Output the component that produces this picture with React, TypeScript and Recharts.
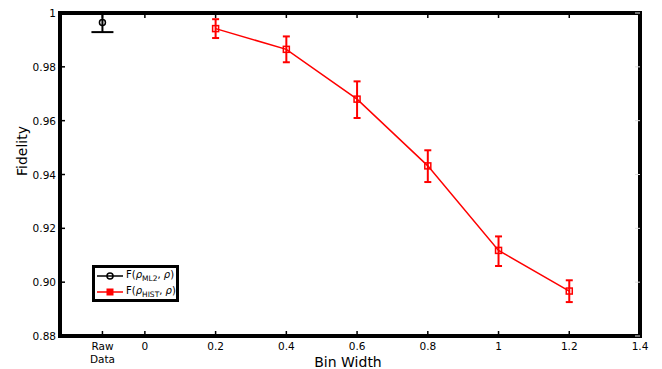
import React from 'react';
import { ComposedChart, Line, XAxis, YAxis, ErrorBar, ReferenceArea } from 'recharts';

// bin widths and fidelity of the histogram estimator
const binWidths = [0.2, 0.4, 0.6, 0.8, 1.0, 1.2];
const histFidelity = [0.9942, 0.9865, 0.968, 0.9432, 0.9118, 0.8967];
const histErrLow = [0.0035, 0.0048, 0.007, 0.006, 0.0058, 0.0041];
const histErrHigh = [0.0035, 0.0048, 0.0066, 0.0058, 0.0052, 0.004];

// raw data (ML2) point, drawn left of zero
const rawX = [-0.12];
const rawFidelity = [0.9965];
const rawErrLow = [0.0036];
const rawErrHigh = [0.0032];

const xTicks = [-0.12, 0, 0.2, 0.4, 0.6, 0.8, 1.0, 1.2, 1.4];
const yTicks = [0.88, 0.9, 0.92, 0.94, 0.96, 0.98, 1.0];

const histData = binWidths.map((b, i) => ({ x: b, y: histFidelity[i], err: [histErrLow[i], histErrHigh[i]] }));
const rawData = rawX.map((b, i) => ({ x: b, y: rawFidelity[i], err: [rawErrLow[i], rawErrHigh[i]] }));

const W = 662;
const H = 369;
const M = { top: 13, right: 22, bottom: 0, left: 0 };
const Y_AXIS_W = 60;
const X_AXIS_H = 33;
const PLOT_W = W - M.right - Y_AXIS_W;
const PLOT_H = H - M.top - X_AXIS_H;
const FONT = '"DejaVu Sans", sans-serif';

const XTick = (props: any) => {
  const { x, y, payload } = props;
  const v = payload.value;
  const raw = v < 0;
  return (
    <g>
      <line x1={x} y1={y} x2={x} y2={y - 5} stroke="#000" strokeWidth={1.5} />
      <line x1={x} y1={y - PLOT_H} x2={x} y2={y - PLOT_H + 5} stroke="#000" strokeWidth={1.5} />
      {raw ? (
        <text x={x} y={y + 14} textAnchor="middle" fontSize={10.5} fontFamily={FONT} fill="#000">
          <tspan x={x}>Raw</tspan>
          <tspan x={x} dy={13}>Data</tspan>
        </text>
      ) : (
        <text x={x} y={y + 14} textAnchor="middle" fontSize={10.5} fontFamily={FONT} fill="#000">
          {String(Math.round(v * 10) / 10)}
        </text>
      )}
    </g>
  );
};

const YTick = (props: any) => {
  const { x, y, payload } = props;
  const v = payload.value;
  const label = v === 1 ? '1' : v.toFixed(2);
  return (
    <g>
      <line x1={x} y1={y} x2={x + 5} y2={y} stroke="#000" strokeWidth={1.5} />
      <line x1={x + PLOT_W} y1={y} x2={x + PLOT_W - 5} y2={y} stroke="#ddd" strokeWidth={1} />
      <text x={x - 4} y={y + 4} textAnchor="end" fontSize={10.5} fontFamily={FONT} fill="#000">
        {label}
      </text>
    </g>
  );
};

const squareDot = (props: any) => {
  const { cx, cy, index } = props;
  return <rect key={`sq-${index}`} x={cx - 3} y={cy - 3} width={6} height={6} fill="none" stroke="#ff0000" strokeWidth={1.5} />;
};

const LegendRow = ({ color, marker, sub }: { color: string; marker: 'circle' | 'square'; sub: string }) => (
  <div style={{ display: 'flex', alignItems: 'center', height: 16 }}>
    <svg width={28} height={12} style={{ marginLeft: 2 }}>
      <line x1={0} y1={6} x2={26} y2={6} stroke={color} strokeWidth={1.5} />
      {marker === 'circle' ? (
        <circle cx={13} cy={6} r={3} fill="none" stroke={color} strokeWidth={1.5} />
      ) : (
        <rect x={10} y={3} width={6} height={6} fill={color} stroke={color} strokeWidth={1} />
      )}
    </svg>
    <span style={{ fontSize: 10, fontFamily: FONT, marginLeft: 1, whiteSpace: 'nowrap' }}>
      F(<i>ρ</i>
      <sub style={{ fontSize: 7.5 }}>{sub}</sub>, <i>ρ</i>)
    </span>
  </div>
);

export default function App() {
  return (
    <div style={{ position: 'absolute', left: 0, top: 0, width: W, height: H, background: '#fff' }}>
      <ComposedChart width={W} height={H} margin={M}>
        <XAxis
          dataKey="x"
          type="number"
          domain={[-0.24, 1.4]}
          ticks={xTicks}
          interval={0}
          allowDataOverflow
          axisLine={false}
          tickLine={false}
          tickSize={0}
          tickMargin={0}
          height={X_AXIS_H}
          tick={(p: any) => <XTick {...p} />}
        />
        <YAxis
          type="number"
          domain={[0.88, 1]}
          ticks={yTicks}
          interval={0}
          allowDataOverflow
          axisLine={false}
          tickLine={false}
          tickSize={0}
          tickMargin={0}
          width={Y_AXIS_W}
          tick={(p: any) => <YTick {...p} />}
        />
        <ReferenceArea x1={-0.24} x2={1.4} y1={0.88} y2={1} fill="none" fillOpacity={0} stroke="#000" strokeWidth={4} ifOverflow="visible" />
        <Line
          data={histData}
          dataKey="y"
          stroke="#ff0000"
          strokeWidth={1.5}
          dot={squareDot}
          activeDot={false}
          isAnimationActive={false}
        >
          <ErrorBar dataKey="err" width={3.5} strokeWidth={2} stroke="#ff0000" direction="y" />
        </Line>
        <Line
          data={rawData}
          dataKey="y"
          stroke="#000"
          strokeWidth={1.5}
          dot={{ r: 3, fill: 'none', stroke: '#000', strokeWidth: 1.5 }}
          activeDot={false}
          isAnimationActive={false}
        >
          <ErrorBar dataKey="err" width={11} strokeWidth={2} stroke="#000" direction="y" />
        </Line>
      </ComposedChart>

      <div
        style={{
          position: 'absolute',
          left: 22,
          top: 151,
          transform: 'translate(-50%, -50%) rotate(-90deg)',
          fontSize: 14,
          fontFamily: FONT,
          whiteSpace: 'nowrap',
        }}
      >
        Fidelity
      </div>
      <div
        style={{
          position: 'absolute',
          left: 348,
          top: 362,
          transform: 'translate(-50%, -50%)',
          fontSize: 14,
          fontFamily: FONT,
          whiteSpace: 'nowrap',
        }}
      >
        Bin Width
      </div>

      <div
        style={{
          position: 'absolute',
          left: 92,
          top: 265,
          width: 87,
          height: 37,
          boxSizing: 'border-box',
          border: '3px solid #000',
          background: '#fff',
          paddingTop: 0,
        }}
      >
        <LegendRow color="#000" marker="circle" sub="ML2" />
        <LegendRow color="#ff0000" marker="square" sub="HIST" />
      </div>
    </div>
  );
}
